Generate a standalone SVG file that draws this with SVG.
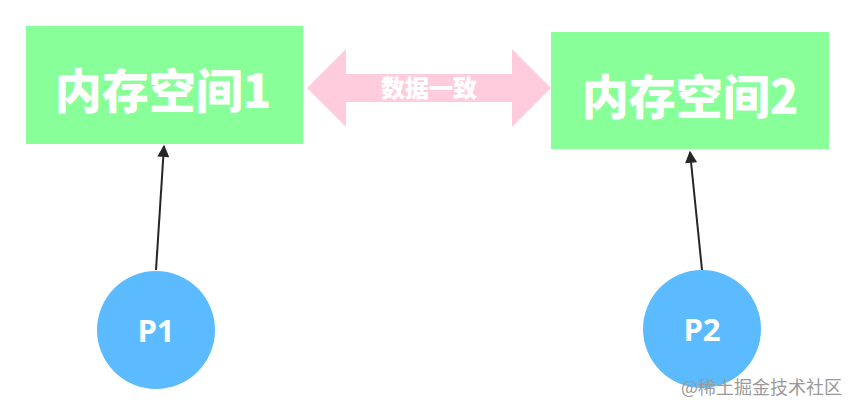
<svg xmlns="http://www.w3.org/2000/svg" width="855" height="415" viewBox="0 0 855 415">
<style>
.box{fill:#88FF99;}
.boxt{font-family:"Noto Sans CJK SC","Open Sans",sans-serif;font-weight:900;font-size:47px;fill:#ffffff;text-anchor:middle;}
.circ{fill:#5CBBFF;}
.ct{font-family:"Open Sans","Noto Sans",sans-serif;font-weight:bold;font-size:31px;fill:#ffffff;text-anchor:middle;}
.link{stroke:#262626;stroke-width:2;fill:none;marker-end:url(#ah);}
.pink{fill:#FFCCDD;}
.pt{font-family:"Noto Sans CJK SC",sans-serif;font-weight:900;font-size:24px;fill:#ffffff;text-anchor:middle;}
.wm{font-family:"Noto Sans CJK SC",sans-serif;font-size:18px;fill:#9a9a9a;}
</style>
<defs>
<marker id="ah" viewBox="0 0 10 10" refX="9" refY="5" markerWidth="7" markerHeight="6" orient="auto" markerUnits="strokeWidth">
<path d="M0,0 L10,5 L0,10 z" fill="#262626"/>
</marker>
</defs>
<rect width="855" height="415" fill="#ffffff"/>
<g id="mem1">
<rect class="box" x="26" y="26" width="277" height="118"/>
<text class="boxt" x="163" y="108">内存空间1</text>
</g>
<g id="mem2">
<rect class="box" x="551" y="32" width="278" height="117"/>
<text class="boxt" x="690" y="114">内存空间2</text>
</g>
<g id="sync">
<polygon class="pink" points="307,88 346,49 346,74 512,74 512,49 551,88 512,127 512,102 346,102 346,127"/>
<text class="pt" x="429" y="97">数据一致</text>
</g>
<g id="p1">
<circle class="circ" cx="156" cy="330" r="59"/>
<text class="ct" x="156" y="342">P1</text>
</g>
<g id="p2">
<circle class="circ" cx="702" cy="329" r="59"/>
<text class="ct" x="702" y="341">P2</text>
</g>
<g id="connectors">
<line class="link" x1="156" y1="270" x2="164" y2="146"/>
<line class="link" x1="702" y1="270" x2="690" y2="152"/>
</g>
<text class="wm" x="681" y="394">@稀土掘金技术社区</text>
</svg>
